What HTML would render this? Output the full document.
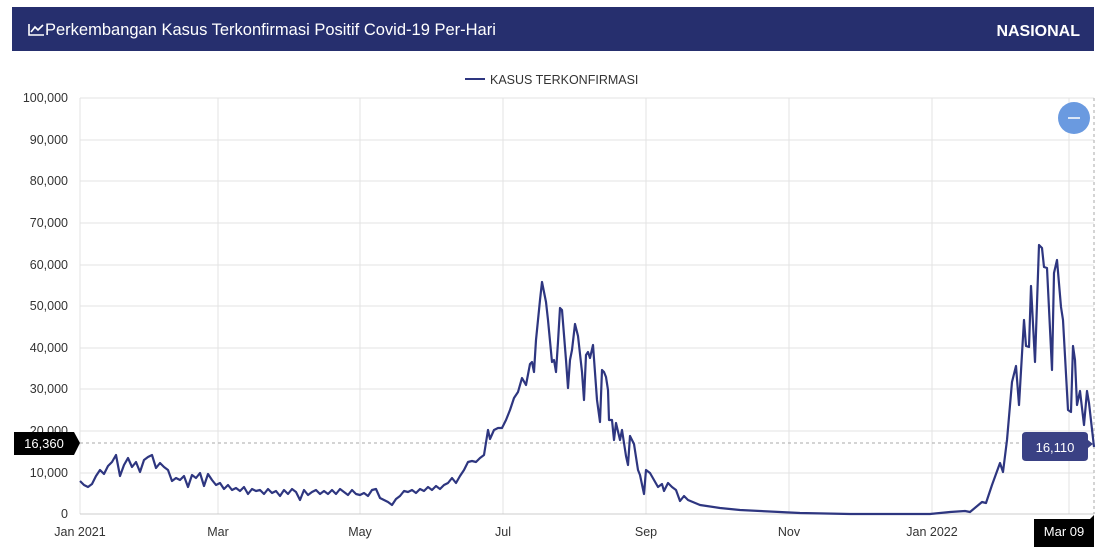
<!DOCTYPE html>
<html><head><meta charset="utf-8"><style>
body{margin:0;background:#fff;width:1101px;height:556px;overflow:hidden;font-family:"Liberation Sans","DejaVu Sans",sans-serif}
</style></head><body>
<svg width="1101" height="556" xmlns="http://www.w3.org/2000/svg" style="position:absolute;left:0;top:0">
<rect x="12" y="7" width="1082" height="44" fill="#262f6e"/>
<path d="M29,24 V35 H44 M31,32 L35,27 L38,30 L43,25" fill="none" stroke="#fff" stroke-width="1.6"/>
<text x="45" y="35" font-size="16.5" fill="#fff">Perkembangan Kasus Terkonfirmasi Positif Covid-19 Per-Hari</text>
<text x="1080" y="36" font-size="16" font-weight="bold" fill="#fff" text-anchor="end">NASIONAL</text>
<line x1="465" y1="79" x2="485" y2="79" stroke="#2e3680" stroke-width="2"/>
<text x="490" y="84" font-size="12.5" fill="#333">KASUS TERKONFIRMASI</text>
<g stroke="#e3e3e3" stroke-width="1">
<line x1="80" y1="98" x2="1094" y2="98"/><line x1="80" y1="140" x2="1094" y2="140"/><line x1="80" y1="181" x2="1094" y2="181"/><line x1="80" y1="223" x2="1094" y2="223"/><line x1="80" y1="265" x2="1094" y2="265"/><line x1="80" y1="306" x2="1094" y2="306"/><line x1="80" y1="348" x2="1094" y2="348"/><line x1="80" y1="389" x2="1094" y2="389"/><line x1="80" y1="431" x2="1094" y2="431"/><line x1="80" y1="473" x2="1094" y2="473"/>
<line x1="80" y1="98" x2="80" y2="514"/><line x1="218" y1="98" x2="218" y2="514"/><line x1="360" y1="98" x2="360" y2="514"/><line x1="503" y1="98" x2="503" y2="514"/><line x1="646" y1="98" x2="646" y2="514"/><line x1="789" y1="98" x2="789" y2="514"/><line x1="932" y1="98" x2="932" y2="514"/><line x1="1069" y1="98" x2="1069" y2="514"/>
</g>
<line x1="80" y1="514" x2="1094" y2="514" stroke="#ccc"/>
<line x1="80" y1="443" x2="1094" y2="443" stroke="#aaa" stroke-dasharray="3,3"/>
<line x1="1094" y1="98" x2="1094" y2="514" stroke="#aaa" stroke-dasharray="3,3"/>
<g font-size="12.5" fill="#333" text-anchor="end">
<text x="68" y="102">100,000</text><text x="68" y="144">90,000</text><text x="68" y="185">80,000</text><text x="68" y="227">70,000</text><text x="68" y="269">60,000</text><text x="68" y="310">50,000</text><text x="68" y="352">40,000</text><text x="68" y="393">30,000</text><text x="68" y="435">20,000</text><text x="68" y="477">10,000</text><text x="68" y="518">0</text>
</g>
<g font-size="12.5" fill="#333" text-anchor="middle">
<text x="80" y="536">Jan 2021</text><text x="218" y="536">Mar</text><text x="360" y="536">May</text><text x="503" y="536">Jul</text><text x="646" y="536">Sep</text><text x="789" y="536">Nov</text><text x="932" y="536">Jan 2022</text>
</g>
<polyline fill="none" stroke="#2e3680" stroke-width="2.2" stroke-linejoin="round" points="80,481 84,485 88,487 92,484 96,476 100,470 104,474 108,466 112,462 116,455 120,476 124,465 128,458 132,467 136,462 140,472 144,460 148,457 152,455 156,468 160,463 164,467 168,470 172,481 176,478 180,480 184,476 188,487 192,475 196,478 200,473 204,486 208,474 212,480 216,485 220,483 224,489 228,485 232,490 236,488 240,491 244,487 248,494 252,489 256,491 260,490 264,494 268,489 272,493 276,491 280,496 284,490 288,494 292,489 296,492 300,500 304,490 308,495 312,492 316,490 320,494 324,491 328,494 332,490 336,494 340,489 344,492 348,495 352,490 356,494 360,495 364,493 368,496 372,490 376,489 380,498 384,500 388,502 392,505 396,499 400,496 404,491 408,492 412,490 416,493 420,489 424,491 428,487 432,490 436,486 440,489 444,485 448,483 452,478 456,483 460,476 464,470 468,462 472,461 476,462 480,458 484,455 488,430 490,439 494,430 498,428 502,428 506,420 510,410 514,398 518,392 522,378 526,385 530,364 532,362 534,372 536,340 540,300 542,282 546,302 548,320 552,362 554,360 556,372 558,342 560,308 562,310 566,360 568,388 570,360 572,350 575,324 578,336 582,372 584,400 586,355 588,352 590,358 593,345 597,400 600,422 602,370 604,372 606,377 608,390 609,420 612,420 614,440 616,423 620,440 622,430 626,456 628,465 630,436 634,444 638,470 640,475 644,494 646,470 650,473 654,480 658,487 662,484 664,491 668,483 672,487 676,490 680,501 684,496 688,500 700,505 720,508 740,510 760,511 800,513 850,514 930,514 950,512 965,511 970,512 982,502 986,503 992,485 1000,463 1003,472 1007,440 1012,382 1016,366 1019,405 1024,320 1026,346 1029,347 1031,286 1035,362 1039,245 1042,248 1044,267 1047,268 1052,370 1054,273 1057,260 1061,307 1063,320 1068,410 1071,412 1073,346 1075,360 1077,405 1080,391 1084,425 1087,391 1089,403 1094,447"/>
<circle cx="1074" cy="118" r="16" fill="#6a9ae0"/>
<line x1="1068" y1="118" x2="1080" y2="118" stroke="#fff" stroke-width="1.5"/>
<path d="M14,432 H74 L80,443 L74,455 H14 Z" fill="#000"/>
<text x="44" y="448" font-size="13" fill="#fff" text-anchor="middle">16,360</text>
<path d="M1026,432 H1084 Q1088,432 1088,436 V440 L1093,444 L1088,448 V457 Q1088,461 1084,461 H1026 Q1022,461 1022,457 V436 Q1022,432 1026,432 Z" fill="#3a4184"/>
<text x="1055" y="452" font-size="13" fill="#fff" text-anchor="middle">16,110</text>
<path d="M1034,519 H1090 L1094,515 L1094,547 H1034 Z" fill="#000"/>
<text x="1064" y="536" font-size="13" fill="#fff" text-anchor="middle">Mar 09</text>
</svg>
</body></html>
